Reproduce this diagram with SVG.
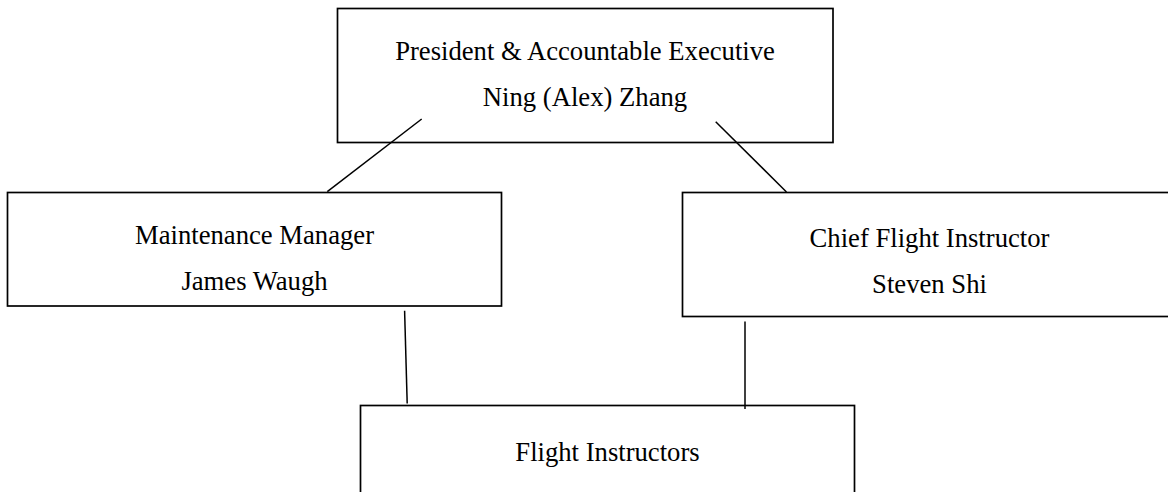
<svg xmlns="http://www.w3.org/2000/svg" width="1168" height="492" viewBox="0 0 1168 492">
<style>
.box{fill:#ffffff;stroke:#000000;stroke-width:1.7}
.lbl{font-family:"Liberation Serif","Times New Roman",serif;font-size:26.67px;fill:#000000;text-anchor:middle}
.conn line{stroke:#000000;stroke-width:1.5}
</style>
<rect x="0" y="0" width="1168" height="492" fill="#ffffff"/>
<g id="president">
<rect class="box" x="337.5" y="8.5" width="495.5" height="134"/>
<text class="lbl" x="585" y="60">President &amp; Accountable Executive</text>
<text class="lbl" x="585" y="106">Ning (Alex) Zhang</text>
</g>
<g id="maintenance">
<rect class="box" x="7.5" y="192.5" width="494" height="113.5"/>
<text class="lbl" x="254.5" y="243.5">Maintenance Manager</text>
<text class="lbl" x="254.5" y="289.5">James Waugh</text>
</g>
<g id="chief">
<rect class="box" x="682.5" y="192.5" width="494" height="124"/>
<text class="lbl" x="929.5" y="246.5">Chief Flight Instructor</text>
<text class="lbl" x="929.5" y="292.5">Steven Shi</text>
</g>
<g id="instructors">
<rect class="box" x="360.5" y="405.5" width="494" height="120"/>
<text class="lbl" x="607.5" y="460.5">Flight Instructors</text>
</g>
<g id="connectors" class="conn">
<line x1="421.7" y1="119" x2="327.3" y2="191.7"/>
<line x1="715.7" y1="121.7" x2="786.5" y2="192"/>
<line x1="404.6" y1="310.7" x2="407.2" y2="403.6"/>
<line x1="745" y1="321.4" x2="745" y2="409"/>
</g>
</svg>
